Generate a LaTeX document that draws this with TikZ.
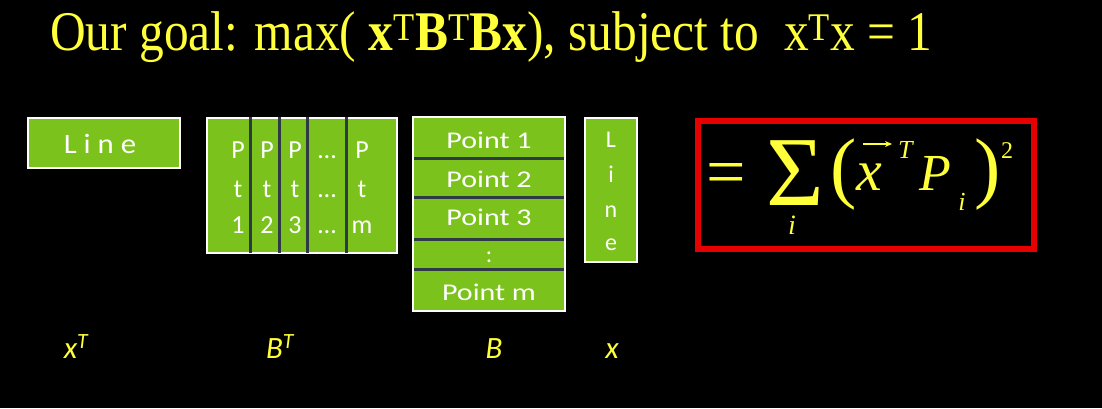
\documentclass[tikz,border=0pt]{standalone}
\usepackage{fontspec}
\setmainfont{Liberation Serif}
\newfontfamily\carl{Carlito}
\usetikzlibrary{arrows.meta}
\definecolor{grn}{HTML}{7BC31C}
\definecolor{sepc}{HTML}{2D3A44}
\definecolor{ylw}{HTML}{FFFF3A}
\definecolor{redb}{HTML}{E60000}
\tikzset{
  gbox/.style={fill=grn, draw=white, line width=2pt, inner sep=0pt},
  sepline/.style={draw=sepc, line width=3pt},
  wtxt/.style={text=white, inner sep=0pt, anchor=base, font=\carl\fontsize{24}{28}\selectfont},
  ytxt/.style={text=ylw, inner sep=0pt, anchor=base},
  lbl/.style={text=ylw, inner sep=0pt, anchor=base, font=\carl\itshape\fontsize{31}{36}\selectfont},
}
\begin{document}
\begin{tikzpicture}[x=1pt,y=-1pt]
\fill[black] (0,0) rectangle (1102,408);
\useasboundingbox (0,0) rectangle (1102,408);
% title
\node[ytxt, anchor=base west, xscale=0.883] (title) at (50,50) {\fontsize{56}{60}\selectfont Our goal: max( \textbf{x\textsuperscript{\mdseries T}B\textsuperscript{\mdseries T}Bx}), subject to~ x\textsuperscript{T}x = 1};
% x^T box
\node[gbox, minimum width=152pt, minimum height=50pt] (xt) at (104,143) {};
\node[wtxt, font=\carl\fontsize{28}{30}\selectfont, xscale=1.1] (xtl) at (100,153) {L i n e};
% B^T box
\node[gbox, minimum width=190pt, minimum height=135pt] (bt) at (302,185.5) {};
\foreach \xx in {250,279,307,346} \draw[sepline] (\xx,117) -- (\xx,253);
\foreach \cx/\a/\b/\c [count=\k] in {238/P/t/1, 267/P/t/2, 295/P/t/3, 327/\dots/\dots/\dots, 362/P/t/m} {
  \node[wtxt, font=\carl\fontsize{26}{28}\selectfont] (bp\k) at (\cx,158) {\a};
  \node[wtxt, font=\carl\fontsize{26}{28}\selectfont] (bq\k) at (\cx,197) {\b};
  \node[wtxt, font=\carl\fontsize{26}{28}\selectfont] (br\k) at (\cx,233) {\c};
}
% B box
\node[gbox, minimum width=152pt, minimum height=194pt] (b) at (489,214) {};
\foreach \yy in {158,197,239,269} \draw[sepline] (414,\yy) -- (564,\yy);
\node[wtxt, xscale=1.25] (p1) at (489,148) {Point 1};
\node[wtxt, xscale=1.25] (p2) at (489,187) {Point 2};
\node[wtxt, xscale=1.25] (p3) at (489,225) {Point 3};
\node[wtxt] (pd) at (489,262) {:};
\node[wtxt, xscale=1.25] (pm) at (489,300) {Point m};
% x box
\node[gbox, minimum width=52pt, minimum height=144pt] (xv) at (611,190) {};
\node[wtxt] (l1) at (611,147) {L};
\node[wtxt] (l2) at (611,182) {i};
\node[wtxt] (l3) at (611,217) {n};
\node[wtxt] (l4) at (611,250) {e};
% red formula box
\node[draw=redb, line width=6pt, minimum width=336pt, minimum height=128pt, inner sep=0pt] (sum) at (866,185) {};
\node[ytxt, anchor=base west] (eq) at (706,195) {\fontsize{70}{70}\selectfont =};
\node[ytxt, anchor=base west] (sig) at (766,205) {\fontsize{99}{99}\selectfont Σ};
\node[ytxt] (si) at (792,234) {\fontsize{28}{28}\selectfont\itshape i};
\node[ytxt, anchor=base west] (lp) at (830,193) {\fontsize{79}{79}\selectfont (};
\node[ytxt, anchor=base west] (xx) at (856,190) {\fontsize{58}{58}\selectfont\itshape x};
\draw[ylw, line width=1.6pt, -{Stealth[length=7pt,width=6pt]}] (863,144) -- (892,144);
\node[ytxt, anchor=base west] (tt) at (898,158) {\fontsize{26}{26}\selectfont\itshape T};
\node[ytxt, anchor=base west] (pp) at (919,190) {\fontsize{52}{52}\selectfont\itshape P};
\node[ytxt] (pi) at (962,210) {\fontsize{26}{26}\selectfont\itshape i};
\node[ytxt, anchor=base west] (rp) at (974,193) {\fontsize{79}{79}\selectfont )};
\node[ytxt, anchor=base west] (sq) at (1001,158) {\fontsize{24}{24}\selectfont 2};
% labels
\node[lbl] (lxt) at (76,358) {x\textsuperscript{T}};
\node[lbl] (lbt) at (280,358) {B\textsuperscript{T}};
\node[lbl] (lb) at (494,358) {B};
\node[lbl] (lx) at (612,358) {x};
\end{tikzpicture}
\end{document}
